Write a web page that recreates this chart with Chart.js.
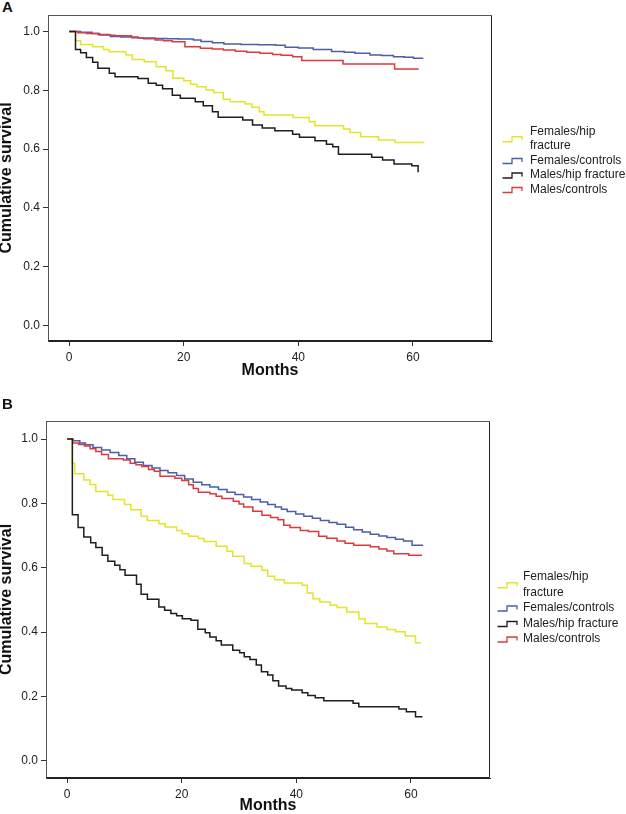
<!DOCTYPE html>
<html>
<head>
<meta charset="utf-8">
<title>Cumulative survival</title>
<script src="https://cdn.jsdelivr.net/npm/chart.js@4.4.1/dist/chart.umd.min.js"></script>
<style>
    body { margin: 0; background: #fff; }
    #page { position: relative; width: 626px; height: 814px; font-family: "Liberation Sans", Arial, sans-serif; }
    #page canvas { position: absolute; left: 0; }
    .panel-label { position: absolute; left: 2px; font-weight: bold; font-size: 15px; color: #111; }
</style>
</head>
<body>
<div id="page">
    <div class="panel-label" style="top:-2px;">A</div>
    <canvas id="chart-a" width="626" height="400" style="top:0;"></canvas>
    <div class="panel-label" style="top:395px;">B</div>
    <canvas id="chart-b" width="626" height="414" style="top:400px;"></canvas>
</div>
<script>
// =========================================================================
// 1. DATA
// =========================================================================
var seriesNames = ['Females/hip fracture', 'Females/controls', 'Males/hip fracture', 'Males/controls'];
var legendLines = [['Females/hip', 'fracture'], ['Females/controls'], ['Males/hip fracture'], ['Males/controls']];
var seriesColors = ['#e4e42a', '#4b5ea8', '#1e1e1e', '#dc3a3c'];

var xTicks = [0, 20, 40, 60];
var yTicks = [0, 0.2, 0.4, 0.6, 0.8, 1.0];

// Panel A
var aFemHipT = [0, 1.1, 2.0, 4.1, 6.0, 7.0, 9.9, 11.0, 13.1, 15.2, 16.9, 18.1, 20.0, 21.2, 22.3, 23.9, 25.2, 26.9, 28.1, 30.7, 31.9, 33.2, 34.0, 39.1, 41.9, 42.9, 47.9, 49.0, 50.9, 54.0, 56.9, 62.0];
var aFemHipS = [1.0, 0.968, 0.956, 0.948, 0.939, 0.931, 0.920, 0.905, 0.897, 0.880, 0.866, 0.841, 0.832, 0.820, 0.812, 0.801, 0.792, 0.769, 0.761, 0.753, 0.742, 0.727, 0.716, 0.707, 0.693, 0.679, 0.668, 0.656, 0.642, 0.631, 0.622, 0.622];

var aFemCtlT = [0, 2.0, 4.0, 5.3, 7.2, 9.0, 12.0, 15.0, 17.0, 19.0, 21.7, 23.0, 25.0, 27.0, 30.0, 33.0, 36.0, 37.7, 40.0, 42.6, 45.8, 48.0, 49.9, 52.5, 54.5, 56.6, 58.5, 60.1, 61.8];
var aFemCtlS = [1.0, 0.997, 0.993, 0.988, 0.983, 0.981, 0.978, 0.976, 0.975, 0.974, 0.971, 0.966, 0.962, 0.957, 0.956, 0.955, 0.953, 0.946, 0.944, 0.939, 0.932, 0.929, 0.926, 0.920, 0.918, 0.914, 0.912, 0.909, 0.909];

var aMalHipT = [0, 1.1, 2.0, 3.0, 4.1, 5.0, 7.0, 8.0, 12.0, 13.8, 15.2, 16.3, 18.0, 19.4, 22.0, 23.4, 25.0, 26.0, 30.3, 32.0, 33.7, 35.9, 39.0, 40.2, 42.9, 44.9, 46.0, 47.0, 52.8, 54.7, 56.7, 59.8, 60.9];
var aMalHipS = [1.0, 0.939, 0.928, 0.911, 0.895, 0.875, 0.858, 0.846, 0.840, 0.824, 0.817, 0.805, 0.783, 0.773, 0.761, 0.747, 0.727, 0.708, 0.699, 0.682, 0.672, 0.662, 0.650, 0.640, 0.628, 0.616, 0.608, 0.582, 0.572, 0.563, 0.549, 0.543, 0.521];

var aMalCtlT = [0, 1.5, 3.0, 5.0, 7.0, 8.0, 10.9, 13.0, 15.0, 16.5, 18.0, 20.2, 22.9, 25.0, 26.9, 29.0, 31.0, 33.3, 35.5, 37.0, 39.0, 40.6, 47.8, 56.8, 61.0];
var aMalCtlS = [1.0, 0.996, 0.993, 0.990, 0.987, 0.985, 0.979, 0.975, 0.971, 0.968, 0.965, 0.948, 0.943, 0.940, 0.937, 0.933, 0.929, 0.926, 0.922, 0.919, 0.914, 0.901, 0.889, 0.872, 0.872];

// Panel B
var bFemHipT = [0, 0.9, 1.3, 2.9, 4.0, 5.0, 7.1, 8.0, 10.0, 11.1, 12.9, 14.0, 16.0, 17.1, 19.1, 20.1, 21.2, 22.9, 23.9, 26.0, 27.9, 28.9, 30.9, 32.1, 34.0, 35.0, 36.2, 37.9, 41.0, 41.9, 42.9, 44.1, 45.9, 47.1, 48.8, 50.9, 52.0, 54.1, 55.8, 57.3, 59.0, 60.8, 61.8];
var bFemHipS = [1.0, 0.925, 0.892, 0.873, 0.859, 0.837, 0.825, 0.812, 0.797, 0.780, 0.760, 0.747, 0.737, 0.727, 0.716, 0.706, 0.698, 0.691, 0.682, 0.667, 0.651, 0.636, 0.613, 0.605, 0.592, 0.574, 0.563, 0.553, 0.546, 0.522, 0.504, 0.494, 0.484, 0.477, 0.463, 0.442, 0.427, 0.416, 0.408, 0.401, 0.388, 0.367, 0.367];

var bFemCtlT = [0, 1.0, 2.2, 3.2, 4.5, 6.0, 7.5, 9.0, 10.4, 11.8, 13.3, 14.8, 16.2, 17.6, 19.1, 20.5, 22.0, 23.5, 24.9, 26.4, 27.9, 29.3, 30.8, 32.2, 33.7, 35.0, 36.3, 37.4, 38.4, 39.9, 41.3, 42.8, 44.2, 45.7, 47.1, 48.6, 50.0, 51.5, 52.9, 54.4, 55.8, 57.3, 58.7, 60.2, 62.0];
var bFemCtlS = [1.0, 0.995, 0.988, 0.982, 0.974, 0.966, 0.958, 0.949, 0.939, 0.928, 0.918, 0.910, 0.902, 0.895, 0.887, 0.876, 0.866, 0.858, 0.851, 0.843, 0.835, 0.828, 0.820, 0.812, 0.804, 0.797, 0.789, 0.782, 0.775, 0.767, 0.760, 0.754, 0.747, 0.741, 0.735, 0.726, 0.718, 0.711, 0.704, 0.699, 0.694, 0.689, 0.683, 0.670, 0.668];

var bMalHipT = [0, 0.9, 1.9, 2.9, 4.1, 5.0, 6.1, 7.1, 8.3, 9.2, 10.1, 12.1, 12.9, 14.0, 16.0, 17.0, 18.1, 19.1, 20.1, 21.6, 22.8, 24.1, 24.9, 26.0, 26.9, 28.9, 30.1, 30.9, 31.9, 33.0, 33.9, 35.0, 35.9, 36.9, 38.2, 39.2, 41.0, 42.0, 43.3, 44.8, 49.9, 50.9, 57.9, 59.2, 60.8, 62.0];
var bMalHipS = [1.0, 0.765, 0.725, 0.696, 0.678, 0.663, 0.639, 0.620, 0.608, 0.594, 0.577, 0.549, 0.518, 0.502, 0.478, 0.468, 0.458, 0.451, 0.442, 0.437, 0.409, 0.398, 0.385, 0.373, 0.360, 0.344, 0.336, 0.324, 0.315, 0.298, 0.277, 0.267, 0.249, 0.233, 0.225, 0.220, 0.212, 0.203, 0.196, 0.187, 0.179, 0.168, 0.161, 0.153, 0.137, 0.137];

var bMalCtlT = [0, 1.0, 2.0, 3.0, 4.0, 5.0, 6.0, 7.2, 9.8, 11.0, 12.0, 13.0, 14.2, 15.2, 16.2, 18.8, 20.0, 21.2, 22.0, 22.9, 24.9, 26.0, 27.0, 29.0, 30.0, 30.8, 32.4, 34.0, 35.5, 36.8, 37.8, 38.9, 40.7, 42.1, 43.9, 45.3, 47.1, 48.5, 50.0, 52.9, 54.4, 55.8, 57.0, 59.6, 61.8];
var bMalCtlS = [1.0, 0.988, 0.983, 0.978, 0.970, 0.961, 0.952, 0.939, 0.935, 0.925, 0.920, 0.915, 0.905, 0.900, 0.884, 0.878, 0.871, 0.858, 0.846, 0.835, 0.830, 0.822, 0.815, 0.807, 0.798, 0.789, 0.776, 0.763, 0.756, 0.749, 0.732, 0.725, 0.716, 0.713, 0.698, 0.692, 0.683, 0.676, 0.670, 0.665, 0.658, 0.652, 0.644, 0.639, 0.637];


// =========================================================================
// 2. HELPERS
// =========================================================================
Chart.defaults.font.family = '"Liberation Sans", Arial, sans-serif';
Chart.defaults.color = '#222';

function toPoints(times, surv) {
    return times.map((t, i) => ({ x: t, y: surv[i] }));
}

// box around the plot area (top / right sides included)
var boxPlugin = {
    id: 'plotBox',
    afterDraw(chart) {
        var a = chart.chartArea, ctx = chart.ctx;
        var l = Math.round(a.left) + 0.5, t = Math.round(a.top) + 0.5;
        var r = Math.round(a.right) - 0.5, b = Math.round(a.bottom) - 0.5;
        ctx.save();
        ctx.lineWidth = 1;
        ctx.strokeStyle = '#555';
        ctx.beginPath();
        ctx.moveTo(l, b); ctx.lineTo(l, t); ctx.lineTo(r, t);
        ctx.stroke();
        ctx.strokeStyle = '#222';
        ctx.beginPath();
        ctx.moveTo(r, t); ctx.lineTo(r, b); ctx.lineTo(l, b);
        ctx.stroke();
        ctx.restore();
    }
};

// SPSS-like legend with little step icons
var stepLegendPlugin = {
    id: 'stepLegend',
    afterDraw(chart, args, opts) {
        var ctx = chart.ctx, a = chart.chartArea;
        var y = opts.top;
        ctx.save();
        ctx.font = '12px "Liberation Sans", Arial, sans-serif';
        ctx.textBaseline = 'middle';
        ctx.textAlign = 'left';
        chart.data.datasets.forEach((ds, i) => {
            var lines = legendLines[i];
            var yc = y + (lines.length - 1) * opts.step / 2 + 0.5;
            var x0 = a.right + opts.iconX;
            ctx.strokeStyle = ds.borderColor;
            ctx.lineWidth = 1.3;
            ctx.beginPath();
            ctx.moveTo(x0, yc + 2.5);
            ctx.lineTo(x0 + 9.5, yc + 2.5);
            ctx.lineTo(x0 + 9.5, yc - 2.5);
            ctx.lineTo(x0 + 19.5, yc - 2.5);
            ctx.lineTo(x0 + 19.5, yc + 1);
            ctx.stroke();
            ctx.fillStyle = '#222';
            lines.forEach((txt, k) => {
                ctx.fillText(txt, a.right + opts.textX, y + k * opts.step);
            });
            y += lines.length * opts.step;
        });
        ctx.restore();
    }
};


// =========================================================================
// 3. CHART BUILDER
// =========================================================================
function buildSurvivalChart(canvasId, series, cfg) {
    var ctx = document.getElementById(canvasId).getContext('2d');

    var datasets = series.map((s, i) => ({
        label: seriesNames[i],
        data: toPoints(s[0], s[1]),
        showLine: true,
        stepped: true,
        borderColor: seriesColors[i],
        borderWidth: 1.5,
        pointRadius: 0,
        fill: false
    }));
    // draw order like the original: controls under, fractures on top
    datasets.forEach((d, i) => { d.order = [1, 3, 0, 2][i]; });

    return new Chart(ctx, {
        type: 'scatter',
        data: { datasets: datasets },
        options: {
            responsive: false,
            animation: false,
            devicePixelRatio: 1,
            layout: { padding: cfg.padding },
            plugins: {
                legend: { display: false },
                tooltip: { enabled: false },
                stepLegend: cfg.legend
            },
            scales: {
                x: {
                    type: 'linear',
                    min: -3.7,
                    max: 73.8,
                    afterBuildTicks: (scale) => { scale.ticks = xTicks.map(v => ({ value: v })); },
                    afterFit: (scale) => { scale.height = cfg.xHeight; },
                    ticks: { font: { size: 12 }, padding: 4, color: '#222', maxRotation: 0 },
                    grid: { drawOnChartArea: false, tickLength: 5, color: '#333' },
                    border: { display: true, color: '#222' },
                    title: {
                        display: true,
                        text: 'Months',
                        font: { size: 16, weight: 'bold', lineHeight: 1 },
                        padding: { top: 0, bottom: 0 },
                        color: '#111'
                    }
                },
                y: {
                    type: 'linear',
                    min: -0.053,
                    max: 1.056,
                    afterBuildTicks: (scale) => { scale.ticks = yTicks.map(v => ({ value: v })); },
                    afterFit: (scale) => { scale.width = cfg.yWidth; },
                    ticks: { font: { size: 12 }, padding: 3, color: '#222', callback: v => v.toFixed(1) },
                    grid: { drawOnChartArea: false, tickLength: 5, color: '#333' },
                    border: { display: true, color: '#555' },
                    title: {
                        display: true,
                        text: 'Cumulative survival',
                        font: { size: 16, weight: 'bold', lineHeight: 1 },
                        padding: { top: -1, bottom: 0 },
                        color: '#111'
                    }
                }
            }
        },
        plugins: [boxPlugin, stepLegendPlugin]
    });
}


// =========================================================================
// 4. INIT
// =========================================================================
buildSurvivalChart('chart-a', [
    [aFemHipT, aFemHipS], [aFemCtlT, aFemCtlS], [aMalHipT, aMalHipS], [aMalCtlT, aMalCtlS]
], {
    padding: { left: 0, top: 15, right: 134, bottom: 21 },
    yWidth: 48,
    xHeight: 38,
    legend: { top: 131.5, step: 14.5, iconX: 10.5, textX: 38 }
});

buildSurvivalChart('chart-b', [
    [bFemHipT, bFemHipS], [bFemCtlT, bFemCtlS], [bMalHipT, bMalHipS], [bMalCtlT, bMalCtlS]
], {
    padding: { left: 0, top: 21, right: 136, bottom: 0 },
    yWidth: 46,
    xHeight: 36,
    legend: { top: 177, step: 15.5, iconX: 7.5, textX: 33 }
});
</script>
</body>
</html>
